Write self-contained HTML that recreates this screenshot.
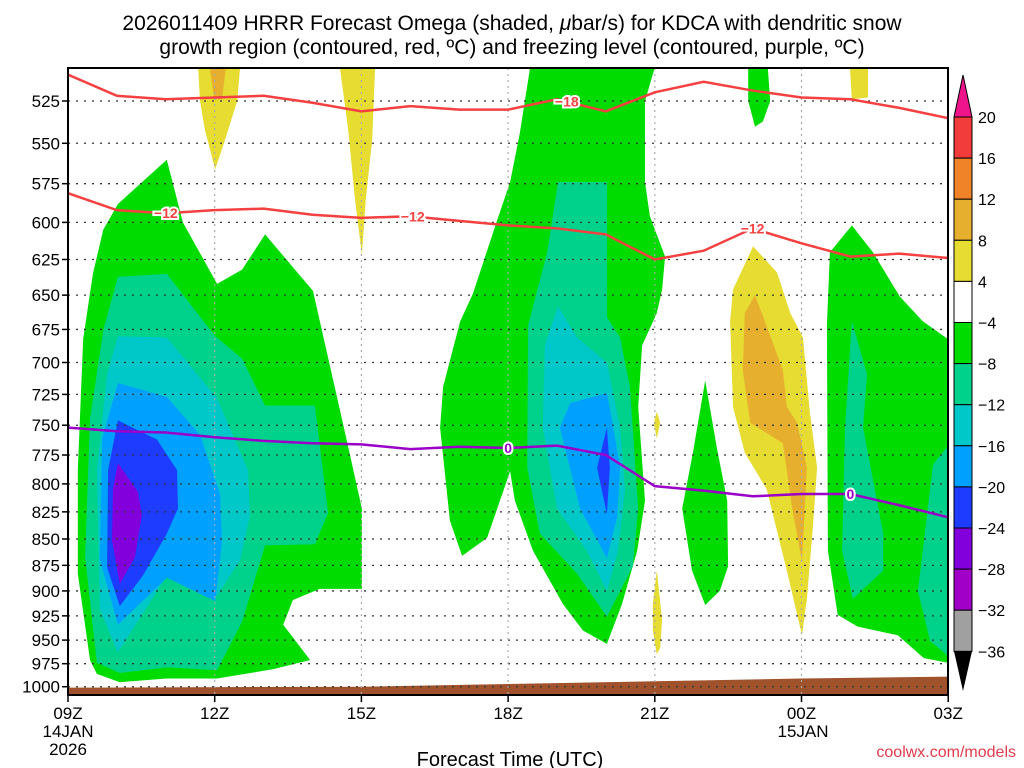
<!DOCTYPE html>
<html><head><meta charset="utf-8"><style>
body{margin:0;background:#fff;}
svg{display:block;font-family:"Liberation Sans","DejaVu Sans",sans-serif;}
</style></head><body>
<svg id="chart" width="1024" height="768" viewBox="0 0 1024 768" xmlns="http://www.w3.org/2000/svg">
<text x="512" y="30" font-size="21" text-anchor="middle" fill="#000">2026011409 HRRR Forecast Omega (shaded, <tspan font-style="italic">μ</tspan>bar/s) for KDCA with dendritic snow</text>
<text x="512" y="54" font-size="21" text-anchor="middle" fill="#000">growth region (contoured, red, ºC) and freezing level (contoured, purple, ºC)</text>
<defs><clipPath id="plotclip"><rect x="68" y="68" width="880" height="627"/></clipPath></defs>
<g id="fills" clip-path="url(#plotclip)"></g>
<g id="grid"></g>
<g id="lines" clip-path="url(#plotclip)"></g>
<rect x="68" y="68" width="880" height="627" fill="none" stroke="#000" stroke-width="2"/>
<g id="yaxis"></g>
<g id="xaxis"></g>
<g id="cbar"></g>
<text x="510" y="766" font-size="20" text-anchor="middle">Forecast Time (UTC)</text>
<text x="1016" y="757" font-size="16" text-anchor="end" fill="#e03c4a">coolwx.com/models</text>
</svg>
<script>
const NS="http://www.w3.org/2000/svg";
// ---- data ----
const pressureTicks=[525,550,575,600,625,650,675,700,725,750,775,800,825,850,875,900,925,950,975,1000];
const timeTicks=["09Z","12Z","15Z","18Z","21Z","00Z","03Z"];
const timeTickHours=[0,3,6,9,12,15,18];
const lineHours=[0,1,2,3,4,5,6,7,8,9,10,11,12,13,14,15,16,17,18];
const isoMinus18P=[510,522,524,523,522,526,531,528,530,530,524,531,520,514,519,523,524,529,535];
const isoMinus12P=[581,592,594,592,591,595,597,596,599,602,604,608,625,619,604,614,623,621,624];
const freezingP=[752,755,756,760,763,765,766,770,768,769,767,775,802,806,811,809,809,819,830];
const groundP=[[0,1001],[6,1000],[9,997],[12,994],[15,991],[18,989]];
const cbarLevels=[20,16,12,8,4,-4,-8,-12,-16,-20,-24,-28,-32,-36];
const cbarColors=["#f23c3c","#f08228","#e6af2d","#e6dc32","#ffffff","#00dc00","#00d28c","#00c8c8","#00a0ff","#1e3cff","#8200dc","#a000c8","#a0a0a0"];
// shaded regions: [level color, [[hour, hPa], ...]]
const regions=[
 ["#00dc00",[[2.02,560],[2.35,600],[3.05,642],[3.56,632],[4.03,608],[5.01,647],[5.62,748],[6.01,822],[6.01,898],[5.15,898],[4.6,909],[4.4,934],[4.95,971],[4.19,981],[3.05,991],[2.02,991],[1.06,995],[0.59,986],[0.45,971],[0.2,883],[0.2,788],[0.31,682],[0.51,635],[0.72,605],[1.02,588]]],
 ["#00d28c",[[1.02,637],[2.02,635],[3.01,680],[3.56,697],[4.03,734],[5.05,734],[5.32,826],[5.05,855],[4.03,856],[3.56,931],[3.05,982],[2.02,979],[1.06,985],[0.59,974],[0.35,867],[0.45,745],[0.72,676]]],
 ["#00c8c8",[[1.02,680],[2.02,681],[3.05,728],[3.68,788],[3.72,828],[3.52,870],[3.05,905],[2.02,885],[1.02,963],[0.65,918],[0.59,788],[0.8,709]]],
 ["#00a0ff",[[1.02,716],[2.02,727],[2.7,758],[3.11,809],[3.15,853],[3.01,910],[2.02,887],[1.02,934],[0.65,869],[0.7,761]]],
 ["#1e3cff",[[1.02,746],[1.82,762],[2.23,788],[2.25,822],[2.02,845],[1.53,885],[1.06,915],[0.8,877],[0.82,788]]],
 ["#8200dc",[[1.02,782],[1.43,807],[1.51,828],[1.37,867],[1.06,893],[0.9,851],[0.92,804]]],
 ["#e6dc32",[[2.66,506],[3.52,506],[3.46,525],[3.21,548],[3.01,566],[2.8,542],[2.7,525]]],
 ["#e6af2d",[[2.9,506],[3.23,506],[3.15,524],[2.99,524]]],
 ["#e6dc32",[[5.56,506],[6.28,506],[6.22,548],[6.09,585],[6.01,622],[5.87,585],[5.73,542]]],
 ["#00dc00",[[9.45,506],[12.0,506],[11.8,525],[11.8,574],[11.9,596],[12.21,623],[12.15,646],[12.04,663],[11.74,687],[11.66,735],[11.8,815],[11.64,861],[11.33,913],[11.02,954],[10.53,940],[10.12,913],[9.51,861],[9.14,815],[9.04,789],[8.57,849],[8.06,866],[7.81,833],[7.61,752],[7.67,719],[8.02,669],[8.28,649],[8.77,599],[9.04,574],[9.24,544]]],
 ["#00d28c",[[10.02,574],[11.02,574],[11.02,666],[11.29,681],[11.49,719],[11.66,822],[11.55,876],[11.02,926],[10.41,883],[9.65,845],[9.39,786],[9.41,672],[9.8,620]]],
 ["#00c8c8",[[10.02,658],[10.41,681],[11.02,700],[11.29,752],[11.39,805],[11.25,861],[11.02,900],[10.61,861],[10.0,822],[9.71,752],[9.75,687]]],
 ["#00a0ff",[[11.02,724],[11.12,745],[11.29,786],[11.23,830],[11.02,868],[10.47,822],[10.06,752],[10.27,732]]],
 ["#1e3cff",[[11.02,752],[11.08,786],[11.02,827],[10.82,786]]],
 ["#e6dc32",[[12.04,739],[12.11,748],[12.04,761],[11.98,748]]],
 ["#e6dc32",[[12.04,880],[12.15,929],[12.11,958],[12.04,965],[11.96,940],[11.96,913]]],
 ["#00dc00",[[13.03,714],[13.27,769],[13.48,815],[13.5,876],[13.33,900],[13.03,914],[12.76,880],[12.56,822],[12.78,773]]],
 ["#00dc00",[[13.91,506],[14.31,506],[14.36,525],[14.21,537],[14.05,540],[13.91,525]]],
 ["#e6dc32",[[14.01,616],[14.5,634],[14.77,663],[15.03,681],[15.17,739],[15.32,786],[15.23,841],[15.11,908],[15.01,945],[14.7,880],[14.29,805],[13.84,773],[13.6,735],[13.54,669],[13.6,646]]],
 ["#e6af2d",[[14.05,650],[14.31,675],[14.62,706],[14.7,735],[14.91,748],[15.11,786],[15.01,871],[14.81,822],[14.62,765],[13.95,748],[13.8,706],[13.84,663]]],
 ["#e6dc32",[[15.99,506],[16.36,506],[16.36,523],[16.03,524]]],
 ["#00dc00",[[16.03,602],[16.46,620],[17.01,651],[17.48,669],[18.1,685],[18.1,975],[17.5,969],[16.97,945],[16.15,936],[15.74,924],[15.54,861],[15.52,672],[15.58,620]]],
 ["#00d28c",[[16.03,669],[16.34,709],[16.26,752],[16.67,845],[16.67,880],[16.05,908],[15.83,861],[15.89,752]]],
 ["#00d28c",[[18.1,762],[17.69,783],[17.38,900],[17.63,951],[18.1,971]]]
];
// ---- axes ----
const X=h=>68+h*48.9;
const Y=p=>101+Math.log(p/525)*909;
function el(tag,attrs,parent){const e=document.createElementNS(NS,tag);for(const k in attrs)e.setAttribute(k,attrs[k]);parent.appendChild(e);return e;}
const fills=document.getElementById('fills');
regions.forEach((r,i)=>{
 const poly=el('polygon',{points:r[1].map(q=>X(q[0]).toFixed(1)+','+Y(q[1]).toFixed(1)).join(' '),fill:r[0]},fills);
 
 
});
const gp=groundP.map(q=>X(q[0])+','+Y(q[1])).join(' ')+' '+X(18)+','+Y(1020)+' '+X(0)+','+Y(1020);
const ground=el('polygon',{points:gp,fill:'#a0522d'},fills);


const grid=document.getElementById('grid'),ya=document.getElementById('yaxis'),xa=document.getElementById('xaxis');
pressureTicks.forEach(p=>{
 const gl=el('line',{x1:68,x2:948,y1:Y(p),y2:Y(p),stroke:'#333','stroke-width':1.3,'stroke-dasharray':'2,6'},grid);
 
 
 el('line',{x1:62,x2:68,y1:Y(p),y2:Y(p),stroke:'#000','stroke-width':1.5},ya);
 const t=el('text',{x:60,y:Y(p)+6,'font-size':17,'text-anchor':'end'},ya);t.textContent=p;
 
 
});
timeTicks.forEach((lab,i)=>{
 const x=X(timeTickHours[i]);
 if(i>0&&i<timeTicks.length-1){const v=el('line',{x1:x,x2:x,y1:68,y2:695,stroke:'#aaa','stroke-width':1.2,'stroke-dasharray':'2,4'},grid);
 
 }
 el('line',{x1:x,x2:x,y1:695,y2:702,stroke:'#000','stroke-width':1.5},xa);
 const t=el('text',{x:x,y:719,'font-size':17,'text-anchor':'middle'},xa);t.textContent=lab;
 
 
});
[["14JAN",68,737],["2026",68,755],["15JAN",803,737]].forEach(d=>{const t=el('text',{x:d[1],y:d[2],'font-size':17,'text-anchor':'middle'},xa);t.textContent=d[0];
 
 });
// ---- contour lines ----
const lines=document.getElementById('lines');
function drawLine(arr,color,name){
 const p=el('polyline',{points:lineHours.map((h,i)=>X(h)+','+Y(arr[i])).join(' '),fill:'none',stroke:color,'stroke-width':2.5},lines);
 
 
}
drawLine(isoMinus18P,'#f44040','isotherm-minus18');
drawLine(isoMinus12P,'#f44040','isotherm-minus12');
drawLine(freezingP,'#9a00c8','freezing-level');
function label(h,arr,txt,color){
 const i=Math.floor(h),f=h-i,p=arr[i]+(arr[Math.min(i+1,arr.length-1)]-arr[i])*f;
 const t=el('text',{x:X(h),y:Y(p)+5,'font-size':14,'font-weight':'bold','text-anchor':'middle',fill:color,stroke:'#fff','stroke-width':4,'paint-order':'stroke'},lines);
 t.textContent=txt;
 
 
}
label(10.2,isoMinus18P,'−18','#f44040');
label(2.0,isoMinus12P,'−12','#f44040');
label(7.05,isoMinus12P,'−12','#f44040');
label(14.0,isoMinus12P,'−12','#f44040');
label(9.0,freezingP,'0','#9a00c8');
label(16.0,freezingP,'0','#9a00c8');
// ---- colorbar ----
const cb=document.getElementById('cbar');
const cbY=i=>117+i*41.1;
const cbTop=el('polygon',{points:'963,75 954,117 972,117',fill:'#f0148c',stroke:'#000','stroke-width':1},cb);


cbarColors.forEach((c,i)=>{const r=el('rect',{x:954,y:cbY(i),width:18,height:41.1,fill:c,stroke:'#000','stroke-width':1},cb);
 
 });
const cbBot=el('polygon',{points:'954,'+cbY(13)+' 972,'+cbY(13)+' 963,691',fill:'#000'},cb);


cbarLevels.forEach((v,i)=>{const t=el('text',{x:978,y:cbY(i)+6,'font-size':16},cb);t.textContent=(v<0?'−':'')+Math.abs(v);
 
 });
</script>
</body></html>
